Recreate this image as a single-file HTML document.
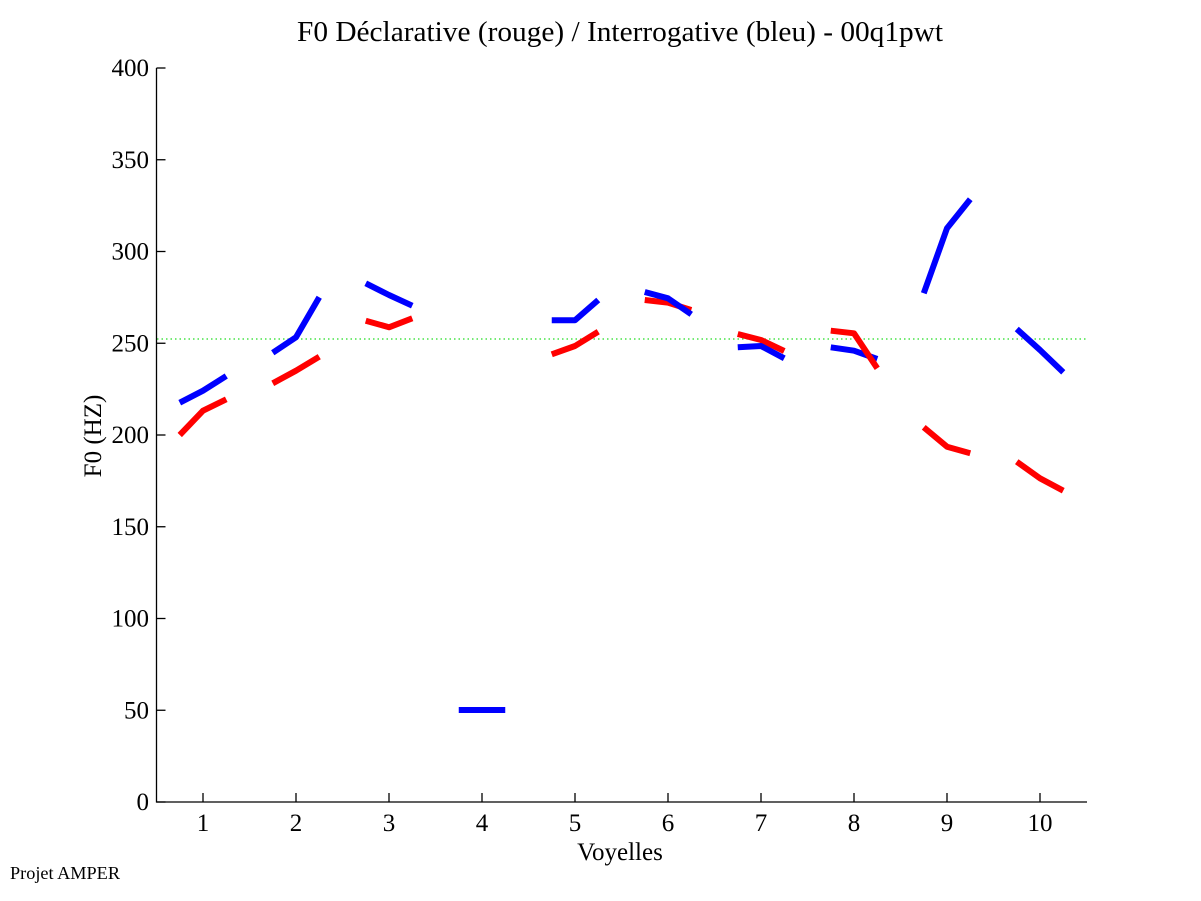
<!DOCTYPE html>
<html>
<head>
<meta charset="utf-8">
<style>
  html, body { margin: 0; padding: 0; background: #ffffff; }
  svg { display: block; }
  text { font-family: "Liberation Serif", "Times New Roman", serif; fill: #000; }
</style>
</head>
<body>
<svg width="1201" height="901" viewBox="0 0 1201 901" xmlns="http://www.w3.org/2000/svg">
  <rect x="0" y="0" width="1201" height="901" fill="#ffffff"/>

  <!-- Title -->
  <text x="620" y="41" font-size="28" text-anchor="middle" textLength="646" lengthAdjust="spacingAndGlyphs">F0 Déclarative (rouge) / Interrogative (bleu) - 00q1pwt</text>

  <!-- green dotted reference line -->
  <line x1="157" y1="339" x2="1087" y2="339" stroke="#22dd22" stroke-width="1.3" stroke-dasharray="1.5 3"/>

  <!-- axes -->
  <g stroke="#000" stroke-width="1.3" fill="none">
    <line x1="156.5" y1="68" x2="156.5" y2="802.5"/>
    <line x1="156" y1="802" x2="1087" y2="802"/>
    <!-- y ticks -->
    <line x1="156.5" y1="802" x2="165.5" y2="802"/>
    <line x1="156.5" y1="710.25" x2="165.5" y2="710.25"/>
    <line x1="156.5" y1="618.5" x2="165.5" y2="618.5"/>
    <line x1="156.5" y1="526.75" x2="165.5" y2="526.75"/>
    <line x1="156.5" y1="435" x2="165.5" y2="435"/>
    <line x1="156.5" y1="343.25" x2="165.5" y2="343.25"/>
    <line x1="156.5" y1="251.5" x2="165.5" y2="251.5"/>
    <line x1="156.5" y1="159.75" x2="165.5" y2="159.75"/>
    <line x1="156.5" y1="68" x2="165.5" y2="68"/>
    <!-- x ticks -->
    <line x1="203" y1="802" x2="203" y2="793"/>
    <line x1="296" y1="802" x2="296" y2="793"/>
    <line x1="389" y1="802" x2="389" y2="793"/>
    <line x1="482" y1="802" x2="482" y2="793"/>
    <line x1="575" y1="802" x2="575" y2="793"/>
    <line x1="668" y1="802" x2="668" y2="793"/>
    <line x1="761" y1="802" x2="761" y2="793"/>
    <line x1="854" y1="802" x2="854" y2="793"/>
    <line x1="947" y1="802" x2="947" y2="793"/>
    <line x1="1040" y1="802" x2="1040" y2="793"/>
  </g>

  <!-- y tick labels -->
  <g font-size="25" text-anchor="end">
    <text x="149" y="810">0</text>
    <text x="149" y="718.25">50</text>
    <text x="149" y="626.5">100</text>
    <text x="149" y="534.75">150</text>
    <text x="149" y="443">200</text>
    <text x="149" y="351.25">250</text>
    <text x="149" y="259.5">300</text>
    <text x="149" y="167.75">350</text>
    <text x="149" y="76">400</text>
  </g>

  <!-- x tick labels -->
  <g font-size="25" text-anchor="middle">
    <text x="203" y="831">1</text>
    <text x="296" y="831">2</text>
    <text x="389" y="831">3</text>
    <text x="482" y="831">4</text>
    <text x="575" y="831">5</text>
    <text x="668" y="831">6</text>
    <text x="761" y="831">7</text>
    <text x="854" y="831">8</text>
    <text x="947" y="831">9</text>
    <text x="1040" y="831">10</text>
  </g>

  <!-- axis labels -->
  <text x="620" y="860" font-size="25" text-anchor="middle">Voyelles</text>
  <text x="0" y="0" font-size="25" text-anchor="middle" transform="translate(101,436) rotate(-90)">F0 (HZ)</text>

  <!-- footer -->
  <text x="10" y="879" font-size="18" textLength="110" lengthAdjust="spacingAndGlyphs">Projet AMPER</text>

  <!-- series -->
  <g fill="none" stroke-width="6" stroke-linecap="butt" stroke-linejoin="round">
    <!-- red (declarative) -->
    <polyline stroke="#ff0000" points="179.75,435 203,410.7 226.25,399.3"/>
    <polyline stroke="#ff0000" points="272.75,383.3 296,370.7 319.25,356.7"/>
    <polyline stroke="#ff0000" points="365.75,320.7 389,327.3 412.25,318.3"/>
    <polyline stroke="#ff0000" points="551.75,354.3 575,346 598.25,331.7"/>
    <polyline stroke="#ff0000" points="644.75,300 668,302.7 691.25,310"/>
    <polyline stroke="#ff0000" points="737.75,334 761,340 784.25,351"/>
    <polyline stroke="#ff0000" points="923.75,427.3 947,446.7 970.25,453.3"/>
    <polyline stroke="#ff0000" points="1016.75,461.7 1040,478.3 1063.25,490.7"/>

    <!-- blue (interrogative) -->
    <polyline stroke="#0000ff" points="179.75,402.7 203,390.7 226.25,376"/>
    <polyline stroke="#0000ff" points="272.75,352.7 296,337.3 319.25,297.3"/>
    <polyline stroke="#0000ff" points="365.75,283.3 389,295 412.25,305.7"/>
    <polyline stroke="#0000ff" points="458.75,710 482,710 505.25,710"/>
    <polyline stroke="#0000ff" points="551.75,320.3 575,320.3 598.25,300"/>
    <polyline stroke="#0000ff" points="644.75,292 668,298.3 691.25,314.3"/>
    <polyline stroke="#0000ff" points="737.75,347.3 761,346 784.25,358.3"/>
    <polyline stroke="#0000ff" points="830.75,347.3 854,350.7 877.25,359"/>
    <polyline stroke="#0000ff" points="923.75,293.3 947,228.3 970.25,199.3"/>
    <polyline stroke="#0000ff" points="1016.75,329 1040,350 1063.25,372.3"/>

    <!-- red group 8 drawn on top -->
    <polyline stroke="#ff0000" points="830.75,330.7 854,333.3 877.25,368.3"/>
  </g>
</svg>
</body>
</html>
